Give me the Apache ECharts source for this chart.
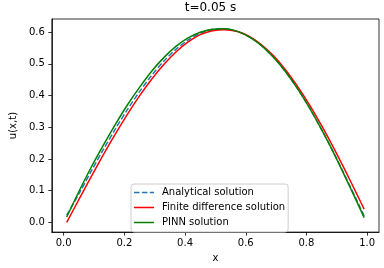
<!DOCTYPE html>
<html>
<head>
<meta charset="utf-8">
<script src="https://cdn.jsdelivr.net/npm/echarts@6/dist/echarts.min.js"></script>
<style>html,body{margin:0;padding:0;background:#fff;}#c{width:384px;height:268px;}</style>
</head>
<body>
<div id="c"></div>
<script>
const xs = [0.01, 0.05, 0.09, 0.13, 0.17, 0.21, 0.25, 0.29, 0.33, 0.37, 0.41, 0.45, 0.49, 0.53, 0.57, 0.61, 0.65, 0.69, 0.73, 0.77, 0.81, 0.85, 0.89, 0.93, 0.97, 0.99];
const analytical = [0.022, 0.0896, 0.1602, 0.2286, 0.2941, 0.3556, 0.4124, 0.4636, 0.5084, 0.5459, 0.5754, 0.5964, 0.6083, 0.6107, 0.6033, 0.5861, 0.5591, 0.5225, 0.4768, 0.4228, 0.3610, 0.2928, 0.2192, 0.1414, 0.0611, 0.0204];
const finiteDiff = [0.0, 0.0718, 0.1428, 0.2119, 0.2782, 0.3408, 0.3989, 0.4516, 0.4981, 0.5375, 0.5691, 0.5923, 0.6045, 0.6080, 0.6030, 0.5875, 0.5620, 0.5268, 0.4825, 0.4297, 0.3706, 0.3052, 0.2343, 0.1592, 0.0813, 0.0420];
const pinn = [0.017, 0.0967, 0.1724, 0.2420, 0.3084, 0.3704, 0.4259, 0.4768, 0.5197, 0.5551, 0.5817, 0.5997, 0.6092, 0.6110, 0.6033, 0.5861, 0.5591, 0.5225, 0.4768, 0.4228, 0.3610, 0.2925, 0.2185, 0.1385, 0.0570, 0.0150];
const seriesNames = ['Analytical solution', 'Finite difference solution', 'PINN solution'];
const xTicks = [0.0, 0.2, 0.4, 0.6, 0.8, 1.0];
const yTicks = [0.0, 0.1, 0.2, 0.3, 0.4, 0.5, 0.6];
const titleText = 't=0.05 s';
const xName = 'x';
const yName = 'u(x,t)';

const pair = ys => xs.map((x, i) => [x, ys[i]]);
const allY = analytical.concat(finiteDiff, pinn);
const yLo = Math.min(...allY), yHi = Math.max(...allY);
const xLo = Math.min(...xs), xHi = Math.max(...xs);
const ym = (yHi - yLo) * 0.05, xm = (xHi - xLo) * 0.05;

// legend handle shapes (thin line / dashed line inside a 20x11 box)
const frame = 'M0,0h0.001v0.001h-0.001z M0,11h0.001v0.001h-0.001z ';
const solidIcon = 'path://' + frame + 'M0,4.75h20v1.5h-20z';
const dashedIcon = 'path://' + frame + 'M0,4.75h5.5v1.5h-5.5z M7.9,4.75h5.5v1.5h-5.5z M15.8,4.75h4.2v1.5h-4.2z';

const font = 'DejaVu Sans';
const chart = echarts.init(document.getElementById('c'), null, {renderer: 'canvas'});
chart.setOption({
  animation: false,
  backgroundColor: '#fff',
  title: {
    text: titleText, left: 210.5, top: 2, textAlign: 'center', padding: 0,
    textStyle: {fontFamily: font, fontSize: 12, fontWeight: 'normal', color: '#000'}
  },
  grid: {left: 43, right: 5, top: 19, bottom: 31, show: true, borderColor: '#000', borderWidth: 0.8, backgroundColor: 'transparent'},
  legend: {
    orient: 'vertical', left: 131, top: 184,
    itemWidth: 20, itemHeight: 11, itemGap: 4,
    padding: [3, 3, 4, 3],
    backgroundColor: 'rgba(255,255,255,0.8)', borderColor: '#cccccc', borderWidth: 1, borderRadius: 3,
    textStyle: {fontFamily: font, fontSize: 10, color: '#000', lineHeight: 11, padding: [0, 0, 0, 3]},
    data: [
      {name: seriesNames[0], icon: dashedIcon},
      {name: seriesNames[1], icon: solidIcon},
      {name: seriesNames[2], icon: solidIcon}
    ]
  },
  xAxis: {
    type: 'value', min: xLo - xm, max: xHi + xm,
    name: xName, nameLocation: 'middle', nameGap: 19,
    nameTextStyle: {fontFamily: font, fontSize: 10, color: '#000'},
    axisLine: {show: true, onZero: false, lineStyle: {color: '#000', width: 0.8}},
    axisTick: {show: true, length: 3.5, lineStyle: {color: '#000', width: 0.8}, customValues: xTicks},
    axisLabel: {show: true, margin: 6, fontFamily: font, fontSize: 10, color: '#000', customValues: xTicks, formatter: v => v.toFixed(1)},
    splitLine: {show: false}
  },
  yAxis: {
    type: 'value', min: yLo - ym, max: yHi + ym,
    name: yName, nameLocation: 'middle', nameGap: 27,
    nameTextStyle: {fontFamily: font, fontSize: 10, color: '#000'},
    axisLine: {show: true, onZero: false, lineStyle: {color: '#000', width: 0.8}},
    axisTick: {show: true, length: 3.5, lineStyle: {color: '#000', width: 0.8}, customValues: yTicks},
    axisLabel: {show: true, margin: 7, fontFamily: font, fontSize: 10, color: '#000', customValues: yTicks, formatter: v => v.toFixed(1)},
    splitLine: {show: false}
  },
  series: [
    {name: seriesNames[0], type: 'line', data: pair(analytical), symbol: 'none', smooth: 0.3,
     lineStyle: {color: '#1f77b4', width: 1.5, type: [5.5, 2.4]}, itemStyle: {color: '#1f77b4'}},
    {name: seriesNames[1], type: 'line', data: pair(finiteDiff), symbol: 'none', smooth: 0.3,
     lineStyle: {color: '#ff0000', width: 1.5}, itemStyle: {color: '#ff0000'}},
    {name: seriesNames[2], type: 'line', data: pair(pinn), symbol: 'none', smooth: 0.3,
     lineStyle: {color: '#008000', width: 1.5}, itemStyle: {color: '#008000'}}
  ]
});
</script>
</body>
</html>
